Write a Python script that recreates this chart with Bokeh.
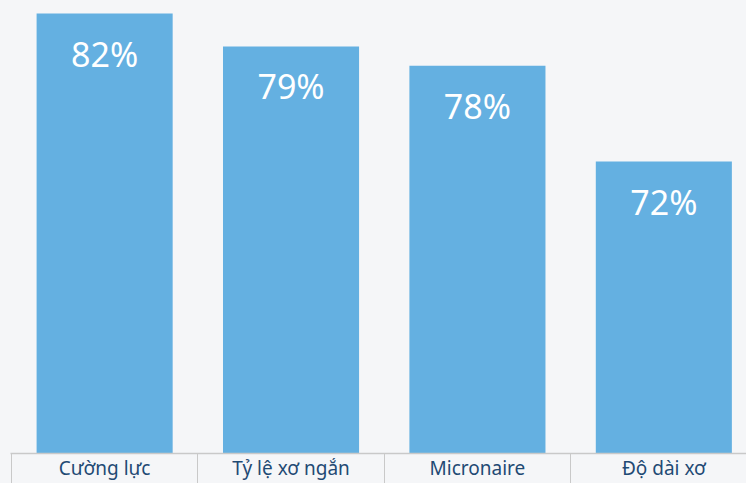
from bokeh.plotting import figure
from bokeh.models import FixedTicker, Range1d, ColumnDataSource, GlobalInlineStyleSheet
from bokeh.core.properties import value
from bokeh.embed import file_html
from bokeh.resources import INLINE

categories = ["Cường lực", "Tỷ lệ xơ ngắn", "Micronaire", "Độ dài xơ"]
values = [81.6, 79.4, 78.1, 71.7]
labels = ["82%", "79%", "78%", "72%"]

BG = "#f5f6f8"
BAR = "#64b0e1"
TXT = "#1f4a74"

xs = list(range(len(categories)))
src = ColumnDataSource(dict(x=xs, top=values, label=labels))

p = figure(width=746, height=483, output_backend="svg", toolbar_location=None,
           x_range=Range1d(-0.505, 3.4435), y_range=Range1d(52.17, 82.47),
           min_border_left=10, min_border_right=0, min_border_top=0, min_border_bottom=0)
p.stylesheets = [GlobalInlineStyleSheet(css=f"html,body{{margin:0;padding:0;background:{BG};overflow:hidden;}}")]

p.background_fill_color = BG
p.border_fill_color = BG
p.outline_line_color = None
p.xgrid.visible = False
p.ygrid.visible = False
p.yaxis.visible = False

p.vbar(x="x", top="top", bottom=0, width=0.73, source=src, color=BAR, line_color=None)
p.text(x="x", y="top", text="label", source=src, text_align="center", text_baseline="middle",
       y_offset=40, text_color="white", text_font=value("Noto Sans"), text_font_size="34px")

ax = p.xaxis[0]
ax.ticker = FixedTicker(ticks=xs, minor_ticks=[i - 0.5 for i in range(len(categories) + 1)])
ax.major_label_overrides = {i: c for i, c in enumerate(categories)}
ax.major_tick_line_color = None
ax.major_tick_in = 0
ax.major_tick_out = 0
ax.minor_tick_in = 0
ax.minor_tick_out = 30
ax.minor_tick_line_color = "#c9c9c9"
ax.axis_line_color = "#c9c9c9"
ax.axis_line_width = 1.5
ax.major_label_text_font = "Noto Sans"
ax.major_label_text_font_size = "19px"
ax.major_label_text_color = TXT
ax.major_label_standoff = -29

open("out.html", "w").write(file_html(p, INLINE))
